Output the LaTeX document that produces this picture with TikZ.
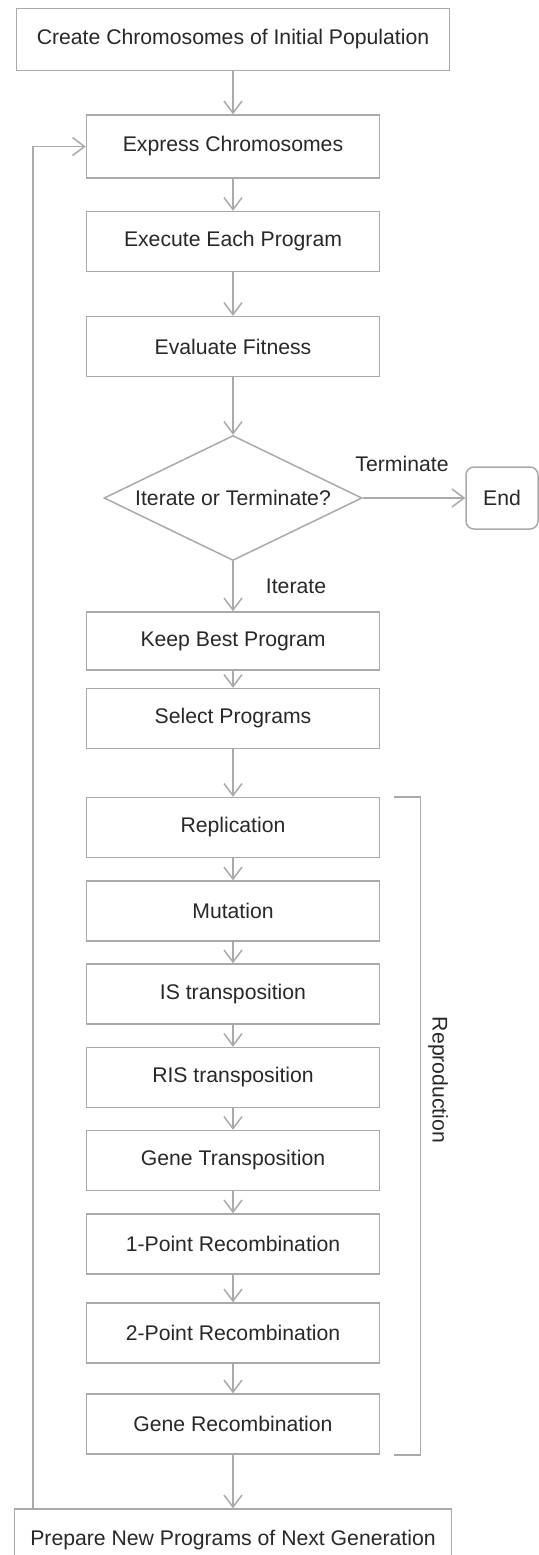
\documentclass[tikz,border=0pt]{standalone}
\usepackage{fontspec}
\setmainfont{Liberation Sans}
\usetikzlibrary{shapes.geometric, arrows.meta}
\definecolor{linegray}{RGB}{170,170,170}
\definecolor{textgray}{RGB}{40,40,40}

\begin{document}
\begin{tikzpicture}[x = 0.5pt, y = -0.5pt,
        box/.style = {draw = linegray, line width = 0.75pt, minimum width = 146.5pt, minimum height = 30pt, inner sep = 0pt, text = textgray, font = \fontsize{10.6}{12}\selectfont},
        lbl/.style = {text = textgray, inner sep = 0pt, font = \fontsize{10.6}{12}\selectfont},
        line/.style = {draw = linegray, line width = 0.75pt},
        arr/.style = {line, -{Straight Barb[length = 6pt, width = 9pt]}}]
        \clip (0, 0) rectangle (539, 1555);

        \node[box, minimum width = 216.5pt, minimum height = 31pt] (create) at (233, 39.5) {Create Chromosomes of Initial Population};
        \node[box, minimum height = 31.5pt] (express) at (233, 146.5) {Express Chromosomes};
        \node[box] (execute) at (233, 241.5) {Execute Each Program};
        \node[box] (evaluate) at (233, 346.5) {Evaluate Fitness};
        \node[box, shape = diamond, aspect = 2.06, minimum width = 129pt, minimum height = 62.5pt] (decide) at (233, 498) {Iterate or Terminate?};
        \node[box, rounded corners = 4pt, minimum width = 36pt, minimum height = 31pt] (finish) at (502, 498) {End};
        \node[box, minimum height = 29pt] (keep) at (233, 641) {Keep Best Program};
        \node[box] (select) at (233, 718.5) {Select Programs};

        \node[box] (repl) at (233, 827.5) {Replication};
        \node[box] (mut) at (233, 911) {Mutation};
        \node[box] (istr) at (233, 994) {IS transposition};
        \node[box] (ristr) at (233, 1077.5) {RIS transposition};
        \node[box] (genetr) at (233, 1160.5) {Gene Transposition};
        \node[box] (onept) at (233, 1244) {1-Point Recombination};
        \node[box] (twopt) at (233, 1333) {2-Point Recombination};
        \node[box] (generec) at (233, 1424) {Gene Recombination};
        \node[box, minimum width = 218.5pt, minimum height = 31pt] (prep) at (233, 1540) {Prepare New Programs of Next Generation};

        \node[lbl] (term) at (402, 464) {Terminate};
        \node[lbl] (iter) at (296, 586) {Iterate};
        \node[lbl, rotate = -90] (repro) at (438, 1080) {Reproduction};

        \draw[arr] (create) -- (express);
        \draw[arr] (express) -- (execute);
        \draw[arr] (execute) -- (evaluate);
        \draw[arr] (evaluate) -- (decide);
        \draw[arr] (decide) -- (finish);
        \draw[arr] (decide) -- (keep);
        \draw[arr] (keep) -- (select);
        \draw[arr] (select) -- (repl);
        \draw[arr] (repl) -- (mut);
        \draw[arr] (mut) -- (istr);
        \draw[arr] (istr) -- (ristr);
        \draw[arr] (ristr) -- (genetr);
        \draw[arr] (genetr) -- (onept);
        \draw[arr] (onept) -- (twopt);
        \draw[arr] (twopt) -- (generec);
        \draw[arr] (generec) -- (prep);

        % loop back to the start
        \coordinate (back) at (33, 146.5);
        \draw[arr] (prep.north -| back) |- (express.west);

        % bracket of the reproduction steps
        \draw[line] ([xshift = 7pt]repl.north east) -- ++(13pt, 0) |- ([xshift = 7pt]generec.south east);

    \end{tikzpicture}
\end{document}
